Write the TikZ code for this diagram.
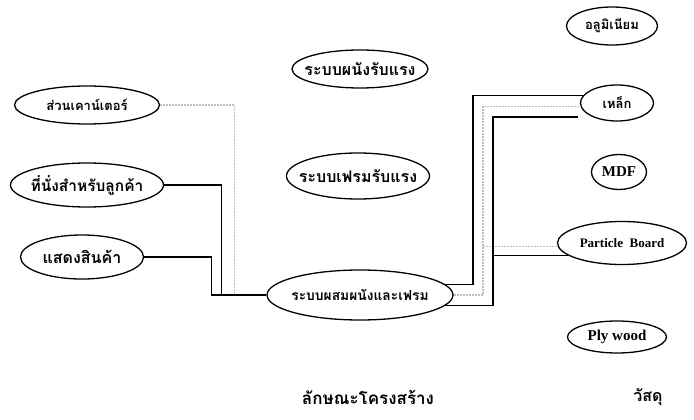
\documentclass[tikz,border=0pt]{standalone}
\usepackage{fontspec}
\setmainfont{Liberation Serif}
\newfontfamily\thaifont[Script=Thai]{Loma}
\usetikzlibrary{shapes.geometric}
\newcommand{\thsize}[1]{\thaifont\bfseries\fontsize{#1}{#1}\selectfont}
\newcommand{\tx}[1]{\makebox[0pt]{#1}}
\begin{document}
\begin{tikzpicture}[x=1pt,y=-1pt,
  el/.style={ellipse, draw, line width=1.3pt, inner sep=0pt},
  th/.style={font=\thsize{#1}},
  lat/.style={font=\bfseries\fontsize{#1}{#1}\selectfont},
  solidline/.style={line width=1.1pt, black},
  greyline/.style={line width=1.2pt, gray!50, dash pattern=on 2pt off 1pt}]
\useasboundingbox (0,0) rectangle (694,420);
% left nodes
\node[el, th=13, minimum width=145pt, minimum height=38pt] (counter) at (87,105) {\tx{ส่วนเคาน์เตอร์}};
\node[el, th=15.5, minimum width=153pt, minimum height=44pt] (seat) at (87,185) {\tx{ที่นั่งสำหรับลูกค้า}};
\node[el, th=16, minimum width=123pt, minimum height=44pt] (disp) at (82,257) {\tx{แสดงสินค้า}};
% middle nodes
\node[el, th=16, minimum width=136pt, minimum height=38pt] (wall) at (360,69) {\tx{ระบบผนังรับแรง}};
\node[el, th=16, minimum width=143pt, minimum height=46pt] (frame) at (358,176) {\tx{ระบบเฟรมรับแรง}};
\node[el, th=13.8, minimum width=186pt, minimum height=50pt] (mixed) at (360,295) {\tx{ระบบผสมผนังและเฟรม}};
% right nodes
\node[el, th=13, minimum width=91pt, minimum height=38pt] (alu) at (612,26) {\tx{อลูมิเนียม}};
\node[el, th=13, minimum width=73pt, minimum height=36pt] (steel) at (617,103) {\tx{เหล็ก}};
\node[el, lat=15, minimum width=55pt, minimum height=35pt] (mdf) at (619,172) {\tx{MDF}};
\node[el, lat=13, minimum width=129pt, minimum height=43pt] (pb) at (622,243) {\tx{Particle\ \ Board}};
\node[el, lat=15, minimum width=99pt, minimum height=32pt] (ply) at (617,337) {\tx{Ply wood}};
% bottom labels
\node[th=17] (lbl1) at (368,397) {ลักษณะโครงสร้าง};
\node[th=16] (lbl2) at (648,397) {วัสดุ};
% left connectors
\draw[greyline] (counter.east) -| ([xshift=-32pt]mixed.west);
\draw[solidline] (seat.east) -| ([xshift=-45pt]mixed.west) -- (mixed.west);
\draw[solidline] (disp.east) -| ([xshift=-55pt]mixed.west) -- (mixed.west);
% right connectors
\coordinate (ra) at (473,0);
\coordinate (rb) at (483,0);
\coordinate (rc) at (493,0);
\coordinate (steelbot) at ([xshift=-2pt,yshift=-14pt]steel.west);
\draw[solidline] (mixed.7) -| (ra |- steel.168) -- (steel.168);
\draw[greyline] (mixed.east) -| (rb |- steel.186) -- (steel.186);
\draw[greyline] (rb |- pb.183) -- (pb.183);
\draw[solidline] (mixed.-7) -| (rc |- steelbot) -- (steelbot);
\draw[solidline] (rc |- pb.193) -- (pb.193);
\end{tikzpicture}
\end{document}
